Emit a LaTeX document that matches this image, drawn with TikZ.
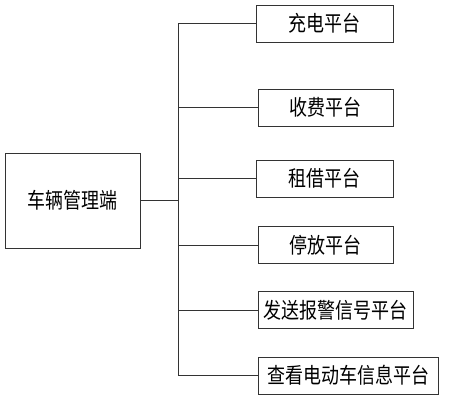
\documentclass[tikz,border=0pt]{standalone}
\usepackage{fontspec}
\setmainfont{Noto Sans CJK SC}
\usepackage{graphicx}
\usepackage{tikz}

\newcommand{\tall}[1]{\scalebox{1}[1.2]{#1}}

\begin{document}
\begin{tikzpicture}[x=1pt,y=-1pt,
  box/.style={draw=black!80,line width=0.9pt,minimum height=37pt,inner sep=0pt,anchor=west,font=\fontsize{18}{18}\selectfont},
  link/.style={draw=black!80,line width=0.9pt}]
\path[use as bounding box] (0,0) rectangle (449,400);
\node[box,anchor=center,minimum width=135pt,minimum height=95pt] (veh) at (72.5,200.5) {\tall{车辆管理端}};
\node[box,minimum width=137pt] (charge) at (256,23.5) {\tall{充电平台}};
\node[box,minimum width=135pt] (fee) at (258,107.5) {\tall{收费平台}};
\node[box,minimum width=137pt] (rent) at (256,178.5) {\tall{租借平台}};
\node[box,minimum width=135pt] (park) at (258,245) {\tall{停放平台}};
\node[box,minimum width=155pt] (alarm) at (258,310) {\tall{发送报警信号平台}};
\node[box,minimum width=180pt] (info) at (258,375.5) {\tall{查看电动车信息平台}};
\coordinate (bustop) at (178,23.5);
\coordinate (busbot) at (178,375.5);
\draw[link] (bustop) -- (busbot);
\draw[link] (veh.east) -- (veh.east -| bustop);
\draw[link] (bustop) -- (charge.west);
\draw[link] (fee.west -| bustop) -- (fee.west);
\draw[link] (rent.west -| bustop) -- (rent.west);
\draw[link] (park.west -| bustop) -- (park.west);
\draw[link] (alarm.west -| bustop) -- (alarm.west);
\draw[link] (busbot) -- (info.west);
\end{tikzpicture}
\end{document}
